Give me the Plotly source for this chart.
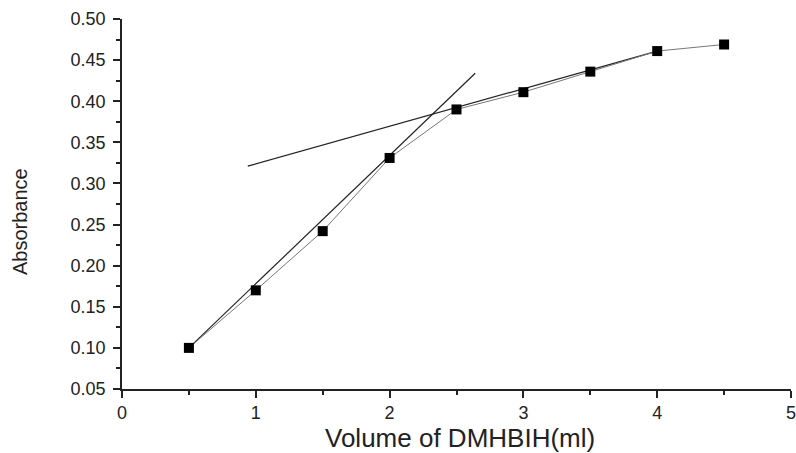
import plotly.graph_objects as go

volume = [0.5, 1.0, 1.5, 2.0, 2.5, 3.0, 3.5, 4.0, 4.5]
absorbance = [0.100, 0.170, 0.242, 0.331, 0.390, 0.411, 0.436, 0.461, 0.469]

steep_x = [0.5, 2.64]
steep_y = [0.100, 0.434]
shallow_x = [0.94, 4.0]
shallow_y = [0.321, 0.461]

x_ticks = [0, 1, 2, 3, 4, 5]
y_ticks = [0.05, 0.10, 0.15, 0.20, 0.25, 0.30, 0.35, 0.40, 0.45, 0.50]

fig = go.Figure()
fig.add_trace(go.Scatter(x=steep_x, y=steep_y, mode="lines",
                         line=dict(color="#222222", width=1.2), showlegend=False))
fig.add_trace(go.Scatter(x=shallow_x, y=shallow_y, mode="lines",
                         line=dict(color="#222222", width=1.2), showlegend=False))
fig.add_trace(go.Scatter(x=volume, y=absorbance, mode="lines+markers",
                         line=dict(color="#777777", width=1),
                         marker=dict(symbol="square", size=10, color="black"),
                         showlegend=False))

font = "Liberation Sans, Arial, sans-serif"
L, R, T, B, W, H = 122, 5, 19, 64, 796, 453
pw = W - L - R
ph = H - T - B
fig.update_layout(
    width=W, height=H,
    margin=dict(l=L, r=R, t=T, b=B),
    paper_bgcolor="white", plot_bgcolor="white",
    font=dict(family=font, color="#222222", size=18),
    xaxis=dict(range=[0, 5], tickvals=x_ticks, ticktext=[str(v) for v in x_ticks],
               automargin=False, ticklabeloverflow="allow",
               showgrid=False, zeroline=False, showline=True, linecolor="#222222",
               linewidth=1.5, ticks="outside", ticklen=7, tickwidth=1.5, tickcolor="#222222",
               minor=dict(dtick=0.5, ticks="outside", ticklen=4, tickwidth=1.5, tickcolor="#222222")),
    yaxis=dict(range=[0.05, 0.50], tickvals=y_ticks, ticktext=[f"{v:.2f}" for v in y_ticks],
               automargin=False, ticklabelstandoff=4,
               showgrid=False, zeroline=False, showline=True, linecolor="#222222",
               linewidth=1.5, ticks="outside", ticklen=7, tickwidth=1.5, tickcolor="#222222",
               minor=dict(dtick=0.025, ticks="outside", ticklen=4, tickwidth=1.5, tickcolor="#222222")),
    annotations=[
        dict(text="Volume of DMHBIH(ml)", xref="paper", yref="paper",
             x=(460 - L) / pw, y=-(438 - (T + ph)) / ph,
             xanchor="center", yanchor="middle", showarrow=False,
             font=dict(size=26, family=font, color="#222222")),
        dict(text="Absorbance", xref="paper", yref="paper",
             x=(20 - L) / pw, y=(T + ph - 222) / ph,
             xanchor="center", yanchor="middle", textangle=-90, showarrow=False,
             font=dict(size=20, family=font, color="#222222")),
    ],
)
fig.write_html("out.html", config={"displayModeBar": False},
               post_script="document.body.style.margin='0';document.body.style.overflow='hidden';")
